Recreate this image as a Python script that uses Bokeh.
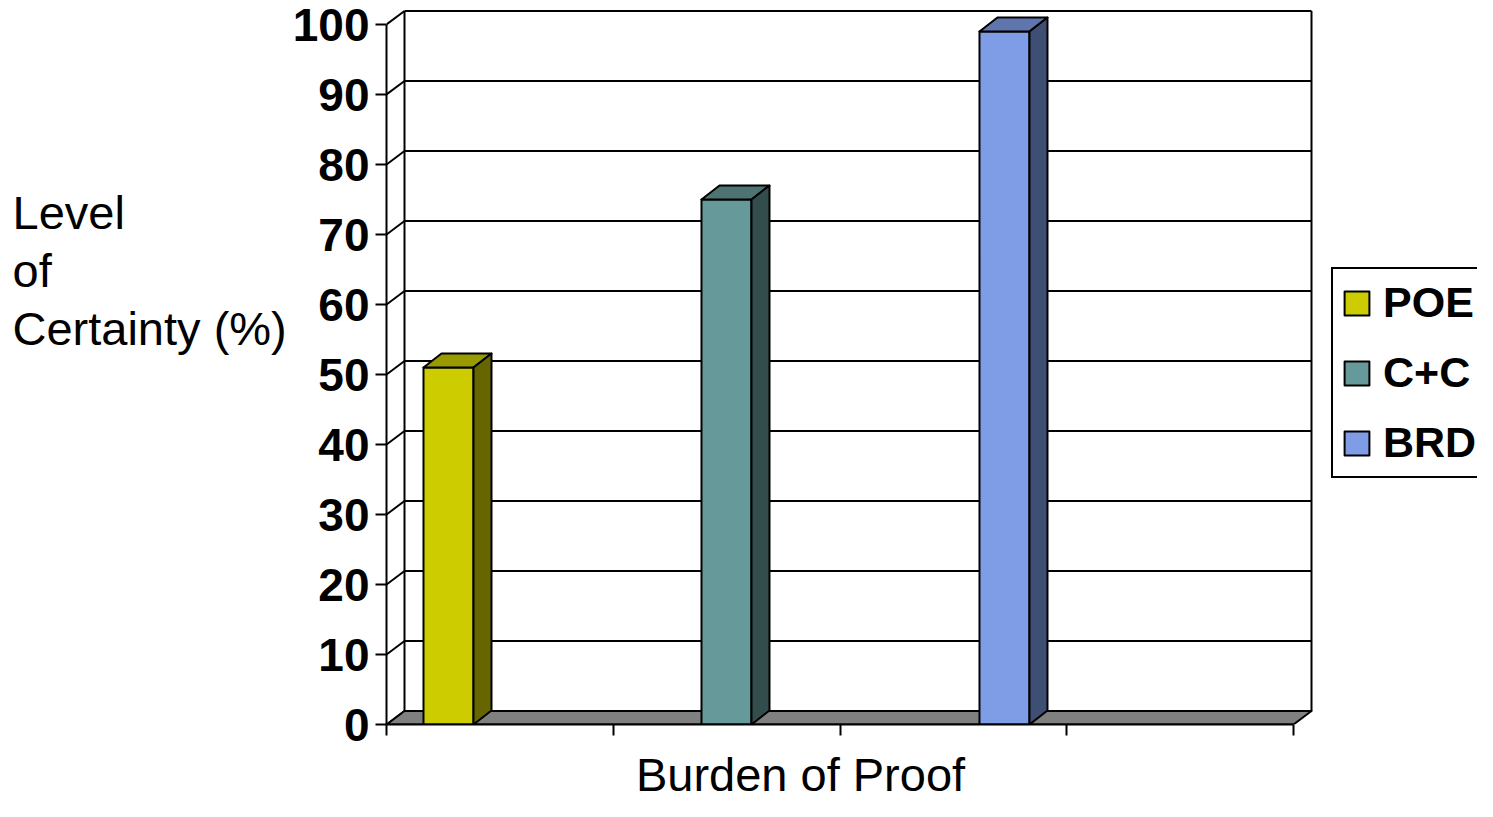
from bokeh.plotting import figure
from bokeh.models import (Range1d, LinearAxis, FixedTicker, Label, Legend,
                          LegendItem, ColumnDataSource)
from bokeh.embed import file_html
from bokeh.resources import INLINE

# ---------------- data ----------------
categories = ["POE", "C+C", "BRD"]
levels = [51, 75, 99]
front_colors = ["#CCCC00", "#669999", "#7F9CE6"]
top_colors = ["#999900", "#4D7373", "#5F75AD"]
side_colors = ["#666600", "#334D4D", "#3F4E73"]
y_ticks = [0, 10, 20, 30, 40, 50, 60, 70, 80, 90, 100]
x_ticks = [0, 1, 2, 3, 4]
y_title = "Level\nof\nCertainty (%)"
x_title = "Burden of Proof"

# ---------------- layout constants ----------------
PX_X = 226.75          # px per x unit
PX_Y = 7.0             # px per y unit
W, H = 1477, 801
LEFT = 386
FRAME_BOTTOM = 724
BOTTOM = H - FRAME_BOTTOM
frame_w = W - LEFT
frame_h = FRAME_BOTTOM

DXW = 18 / PX_X        # wall depth offset
DYW = 13.5 / PX_Y
DXB = 18 / PX_X        # bar depth offset
DYB = 14 / PX_Y
BAR_W = 50 / PX_X
BAR0 = 0.2734
BAR_STEP = 1.226

y_min, y_max = y_ticks[0], y_ticks[-1]
x_min, x_max = x_ticks[0], x_ticks[-1]

p = figure(width=W, height=H, output_backend="svg", toolbar_location=None,
           x_range=Range1d(0, frame_w / PX_X), y_range=Range1d(0, frame_h / PX_Y),
           min_border_left=LEFT, min_border_right=0, min_border_top=0,
           min_border_bottom=BOTTOM, x_axis_type=None, y_axis_type=None)
p.outline_line_color = None
p.background_fill_color = "white"
p.border_fill_color = "white"

LW = 2

# back wall grid lines
n = len(y_ticks)
p.segment(x0=[x_min + DXW] * n, y0=[t + DYW for t in y_ticks],
          x1=[x_max + DXW] * n, y1=[t + DYW for t in y_ticks],
          line_color="black", line_width=LW)
# back wall vertical edges
p.segment(x0=[x_min + DXW, x_max + DXW], y0=[y_min + DYW] * 2,
          x1=[x_min + DXW, x_max + DXW], y1=[y_max + DYW] * 2,
          line_color="black", line_width=LW)
# left wall diagonals
p.segment(x0=[x_min] * n, y0=y_ticks, x1=[x_min + DXW] * n,
          y1=[t + DYW for t in y_ticks], line_color="black", line_width=LW)
# floor
p.patch(x=[x_min, x_max, x_max + DXW, x_min + DXW],
        y=[y_min, y_min, y_min + DYW, y_min + DYW],
        fill_color="#808080", line_color="black", line_width=LW, line_join="round")

# bars
xs = [BAR0 + i * BAR_STEP for i in range(len(categories))]
src = ColumnDataSource(dict(x=xs, top=levels, color=front_colors, label=categories))
bars = p.vbar(x="x", top="top", bottom=0, width=BAR_W, fill_color="color",
              line_color="black", line_width=LW, line_join="round", source=src)

top_xs = [[x - BAR_W / 2, x + BAR_W / 2, x + BAR_W / 2 + DXB, x - BAR_W / 2 + DXB] for x in xs]
top_ys = [[v, v, v + DYB, v + DYB] for v in levels]
p.patches(xs=top_xs, ys=top_ys, fill_color=top_colors, line_color="black",
          line_width=LW, line_join="round")
side_xs = [[x + BAR_W / 2, x + BAR_W / 2 + DXB, x + BAR_W / 2 + DXB, x + BAR_W / 2] for x in xs]
side_ys = [[0, DYB, v + DYB, v] for v in levels]
p.patches(xs=side_xs, ys=side_ys, fill_color=side_colors, line_color="black",
          line_width=LW, line_join="round")

# axes
yax = LinearAxis(ticker=FixedTicker(ticks=y_ticks), bounds=(y_min, y_max),
                 major_tick_out=11, major_tick_in=0, minor_tick_out=0, minor_tick_in=0,
                 axis_line_width=LW, major_tick_line_width=LW,
                 axis_line_color="black", major_tick_line_color="black",
                 major_label_text_font_size="46px", major_label_text_font_style="bold",
                 major_label_text_font="Liberation Sans", major_label_text_color="black",
                 major_label_standoff=6)
p.add_layout(yax, "left")
xax = LinearAxis(ticker=FixedTicker(ticks=x_ticks), bounds=(x_min, x_max),
                 major_tick_out=11, major_tick_in=0, minor_tick_out=0, minor_tick_in=0,
                 axis_line_width=LW, major_tick_line_width=LW,
                 axis_line_color="black", major_tick_line_color="black",
                 major_label_overrides={t: "" for t in x_ticks},
                 major_label_text_font_size="10px")
p.add_layout(xax, "below")

# titles (placed in the side panels so they are not clipped by the frame)
p.add_layout(Label(x=-3, y=454, x_units="screen", y_units="screen", text=y_title,
                   text_font="Liberation Sans", text_font_size="47px", text_color="black",
                   text_line_height=1.1, text_align="left", text_baseline="middle"),
             "left")
p.add_layout(Label(x=414, y=14, x_units="screen", y_units="screen", text=x_title,
                   text_font="Liberation Sans", text_font_size="47px", text_color="black",
                   text_align="center", text_baseline="alphabetic"),
             "below")

# legend
legend = Legend(items=[LegendItem(label=c, renderers=[bars], index=i)
                       for i, c in enumerate(categories)],
                location=(945, 246), orientation="vertical",
                border_line_color="black", border_line_width=LW, border_line_alpha=1.0,
                background_fill_color="white", background_fill_alpha=1.0,
                padding=8, spacing=19, margin=0, glyph_width=31, glyph_height=30,
                label_standoff=11, label_height=51,
                label_text_font_size="43px", label_text_font_style="bold",
                label_text_font="Liberation Sans", label_text_color="black")
p.add_layout(legend)

open("out.html", "w").write(file_html(p, INLINE))
